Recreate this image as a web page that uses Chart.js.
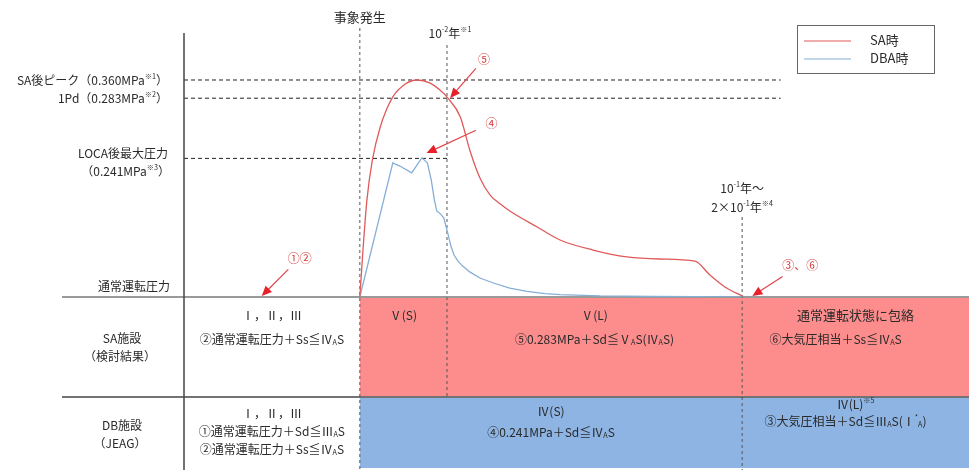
<!DOCTYPE html>
<html>
<head>
<meta charset="utf-8">
<script src="https://cdn.jsdelivr.net/npm/chart.js@4.4.0/dist/chart.umd.min.js"></script>
<style>
  html, body { margin: 0; padding: 0; background: #fff; }
  #wrap { width: 969px; height: 470px; }
</style>
</head>
<body>
<div id="wrap"><canvas id="pressureChart"></canvas></div>
<script>
    // Schematic time axis (0-100) and pressure level (0-100, not to scale)
    var saTime   = [22.4, 22.8, 23.3, 24.0, 25.0, 26.6, 28.2, 29.7, 31.3, 32.6, 33.6, 35.2, 36.4, 37.7, 39.0, 40.3, 41.5, 45.0, 47.9, 52.1, 56.4, 60.6, 65.1, 67.0, 68.9, 71.1];
    var saLevel  = [0, 17.8, 36.7, 51.9, 64.4, 75.8, 80.7, 82.2, 81.1, 78.4, 75.4, 68.2, 55.7, 45.1, 38.6, 35.2, 32.6, 26.5, 21.6, 17.8, 15.2, 14.4, 13.6, 8.3, 3.8, 0.4];
    var dbaTime  = [22.4, 26.6, 27.5, 29.0, 30.3, 31.0, 31.5, 31.9, 32.2, 32.7, 33.1, 33.6, 34.0, 34.4, 34.9, 35.5, 36.4, 37.7, 39.4, 41.5, 43.7, 46.0, 47.9, 53.0, 59.4, 71.1];
    var dbaLevel = [0, 50.8, 49.6, 47.0, 52.7, 50.8, 44.3, 36.7, 32.6, 31.4, 29.9, 24.2, 19.3, 15.9, 13.6, 11.7, 9.5, 7.2, 5.3, 3.4, 2.1, 1.3, 0.9, 0.4, 0.2, 0];

    // Reference pressure levels (dashed lines) and their labels
    var refLevels = [82.2, 75.3, 52.5];
    var refEnds   = [76.0, 76.0, 33.5];
    var refLabels = [['SA後ピーク（0.360MPa^{※1}）'], ['1Pd（0.283MPa^{※2}）'], ['LOCA後最大圧力', '（0.241MPa^{※3}）']];
    var baseLabel = '通常運転圧力';

    // Time marks (vertical dashed lines)
    var timeMarks  = [22.4, 33.5, 71.1];
    var timeLabels = [['事象発生'], ['10^{-2}年^{※1}'], ['10^{-1}年～', '2×10^{-1}年^{※4}']];

    // Arrow notes: target in data units
    var noteText = ['⑤', '④', '①②', '③、⑥'];
    var noteX    = [33.9, 30.9, 9.9, 72.4];
    var noteY    = [75.4, 54.5, 0.4, 0.4];

    // Evaluation table
    var rowNames = [['SA施設', '（検討結果）'], ['DB施設', '（JEAG）']];
    var saCells  = [
        ['Ⅰ，Ⅱ，Ⅲ', '②通常運転圧力＋Ss≦Ⅳ_{A}S'],
        ['Ⅴ(S)'],
        ['Ⅴ(L)', '⑤0.283MPa＋Sd≦Ⅴ_{A}S(Ⅳ_{A}S)'],
        ['通常運転状態に包絡', '⑥大気圧相当＋Ss≦Ⅳ_{A}S']
    ];
    var dbCells  = [
        ['Ⅰ，Ⅱ，Ⅲ', '①通常運転圧力＋Sd≦Ⅲ_{A}S', '②通常運転圧力＋Ss≦Ⅳ_{A}S'],
        ['Ⅳ(S)', '④0.241MPa＋Sd≦Ⅳ_{A}S'],
        ['Ⅳ(L)^{※5}', '③大気圧相当＋Sd≦Ⅲ_{A}S(Ⅰ^{*}_{A})']
    ];

    var FONT = '"Noto Sans CJK JP", "Noto Sans", sans-serif';
    var TEXT = '#2a2a2a';
    var RED = '#e05a5a';
    var BLUE = '#86aed6';

    function toPoints(xs, ys) {
        return xs.map(function (x, i) { return { x: x, y: ys[i] }; });
    }

    // draws text with ^{sup} and _{sub} parts
    function richText(ctx, str, x, y, align, size, color) {
        var parts = str.split(/(\^\{[^}]*\}|_\{[^}]*\})/).filter(function (p) { return p.length; });
        var segs = parts.map(function (p) {
            if (p.indexOf('^{') === 0) return { t: p.slice(2, -1), s: size * 0.6, dy: -size * 0.35 };
            if (p.indexOf('_{') === 0) return { t: p.slice(2, -1), s: size * 0.6, dy: size * 0.3 };
            return { t: p, s: size, dy: 0 };
        });
        var w = 0;
        segs.forEach(function (g) {
            ctx.font = g.s + 'px ' + FONT;
            g.w = ctx.measureText(g.t).width;
            w += g.w;
        });
        var cx = align === 'center' ? x - w / 2 : (align === 'right' ? x - w : x);
        ctx.fillStyle = color;
        ctx.textAlign = 'left';
        ctx.textBaseline = 'middle';
        segs.forEach(function (g) {
            ctx.font = g.s + 'px ' + FONT;
            ctx.fillText(g.t, cx, y + g.dy);
            cx += g.w;
        });
    }

    function line(ctx, x1, y1, x2, y2, color, width, dash) {
        ctx.save();
        ctx.strokeStyle = color;
        ctx.lineWidth = width;
        ctx.setLineDash(dash || []);
        ctx.beginPath();
        ctx.moveTo(x1, y1);
        ctx.lineTo(x2, y2);
        ctx.stroke();
        ctx.restore();
    }

    function arrow(ctx, x1, y1, x2, y2) {
        var a = Math.atan2(y2 - y1, x2 - x1);
        line(ctx, x1, y1, x2 - Math.cos(a) * 6, y2 - Math.sin(a) * 6, '#e0454a', 1.2);
        ctx.save();
        ctx.fillStyle = '#e8202a';
        ctx.translate(x2, y2);
        ctx.rotate(a);
        ctx.beginPath();
        ctx.moveTo(0, 0);
        ctx.lineTo(-10, -4.5);
        ctx.lineTo(-10, 4.5);
        ctx.closePath();
        ctx.fill();
        ctx.restore();
    }

    var diagram = {
        id: 'diagram',
        beforeDatasetsDraw: function (chart) {
            var ctx = chart.ctx, area = chart.chartArea;
            var xs = chart.scales.x, ys = chart.scales.y;
            var right = chart.width;
            var rowTop = area.bottom, midRow = rowTop + 100, rowBottom = rowTop + 171;
            var c0 = xs.getPixelForValue(timeMarks[0]);

            // table fills
            ctx.fillStyle = '#fd8d8d';
            ctx.fillRect(c0, rowTop + 1, right - c0, midRow - rowTop - 2);
            ctx.fillStyle = '#8db4e2';
            ctx.fillRect(c0, midRow + 1, right - c0, rowBottom - midRow - 1);

            // reference dashed lines
            refLevels.forEach(function (v, i) {
                var y = ys.getPixelForValue(v);
                line(ctx, area.left, y, xs.getPixelForValue(refEnds[i]), y, '#222', 1, [4, 3]);
            });

            // time mark lines
            var tops = [28, 45, 217];
            var bottoms = [470, midRow, 470];
            timeMarks.forEach(function (t, i) {
                var x = xs.getPixelForValue(t);
                line(ctx, x, tops[i], x, bottoms[i], '#555', 1, [3, 3]);
            });

            // table lines and axis
            line(ctx, 62, rowTop, right, rowTop, '#777', 1.3);
            line(ctx, 62, midRow, right, midRow, '#444', 1.3);
            line(ctx, area.left, area.top, area.left, 470, '#444', 1.5);
        },
        afterDatasetsDraw: function (chart) {
            var ctx = chart.ctx, area = chart.chartArea;
            var xs = chart.scales.x, ys = chart.scales.y;
            var right = chart.width;
            var rowTop = area.bottom, midRow = rowTop + 100;

            // left labels
            refLevels.forEach(function (v, i) {
                var y = ys.getPixelForValue(v);
                if (refLabels[i].length === 1) {
                    richText(ctx, refLabels[i][0], 168, y, 'right', 12, TEXT);
                } else {
                    richText(ctx, refLabels[i][0], 168, y - 5, 'right', 12, TEXT);
                    richText(ctx, refLabels[i][1], 170, y + 13, 'right', 12, TEXT);
                }
            });
            richText(ctx, baseLabel, 170, rowTop - 11, 'right', 12, TEXT);

            // time labels
            var ly = [[17], [33], [188, 207]];
            timeMarks.forEach(function (t, i) {
                var x = xs.getPixelForValue(t);
                timeLabels[i].forEach(function (s, k) {
                    richText(ctx, s, x + (i === 1 ? 3 : 0), ly[i][k], 'center', i === 0 ? 13 : 12, TEXT);
                });
            });

            // arrow notes
            var offs = [[34, -39], [65, -30], [38, -38], [48, -31]];
            var fr = [0.76, 0.76, 0.7, 0.63];
            noteText.forEach(function (s, i) {
                var tx = xs.getPixelForValue(noteX[i]), ty = ys.getPixelForValue(noteY[i]);
                var lx = tx + offs[i][0], lyy = ty + offs[i][1];
                arrow(ctx, tx + offs[i][0] * fr[i], ty + offs[i][1] * fr[i], tx, ty);
                richText(ctx, s, lx, lyy, 'center', 12, '#d83a3a');
            });

            // legend
            var bx = 797, by = 25, bw = 137, bh = 48;
            ctx.fillStyle = '#fff';
            ctx.fillRect(bx, by, bw, bh);
            ctx.strokeStyle = '#666';
            ctx.lineWidth = 1;
            ctx.strokeRect(bx + 0.5, by + 0.5, bw, bh);
            chart.data.datasets.forEach(function (ds, i) {
                var y = by + 16 + i * 18;
                line(ctx, bx + 7, y, bx + 54, y, ds.borderColor, 1.2);
                richText(ctx, ds.label, bx + 73, y - 1, 'left', 13, TEXT);
            });

            // table text
            var cx = [area.left].concat(timeMarks.map(function (t) { return xs.getPixelForValue(t); })).concat([right]);
            rowNames.forEach(function (r, i) {
                var y0 = i === 0 ? rowTop + 41 : midRow + 28;
                richText(ctx, r[0], 122, y0, 'center', 12, TEXT);
                richText(ctx, r[1], 120, y0 + 18, 'center', 12, TEXT);
            });
            saCells.forEach(function (cell, i) {
                var mid = (cx[i] + cx[i + 1]) / 2;
                cell.forEach(function (s, k) {
                    richText(ctx, s, mid - (i === 3 && k === 1 ? 20 : 0), rowTop + 18 + k * 24, 'center', i === 3 && k === 0 ? 13 : 12, TEXT);
                });
            });
            var dbSpan = [[cx[0], cx[1]], [cx[1], cx[3]], [cx[3], cx[4]]];
            var dbY = [[16, 34, 52], [14, 35], [7, 24]];
            dbCells.forEach(function (cell, i) {
                var mid = (dbSpan[i][0] + dbSpan[i][1]) / 2;
                cell.forEach(function (s, k) {
                    richText(ctx, s, mid - (i === 2 && k === 1 ? 10 : 0), midRow + dbY[i][k], 'center', 12, TEXT);
                });
            });
        }
    };

    var ctxPressure = document.getElementById('pressureChart').getContext('2d');
    new Chart(ctxPressure, {
        type: 'line',
        data: {
            datasets: [{
                label: 'SA時',
                data: toPoints(saTime, saLevel),
                borderColor: RED,
                borderWidth: 1.3,
                pointRadius: 0,
                cubicInterpolationMode: 'monotone',
                fill: false
            }, {
                label: 'DBA時',
                data: toPoints(dbaTime, dbaLevel),
                borderColor: BLUE,
                borderWidth: 1.3,
                pointRadius: 0,
                tension: 0,
                fill: false
            }]
        },
        options: {
            responsive: true,
            maintainAspectRatio: false,
            animation: false,
            layout: {
                padding: { left: 184, top: 33, right: 0, bottom: 173 }
            },
            scales: {
                x: { type: 'linear', min: 0, max: 100, display: false },
                y: { min: 0, max: 100, display: false }
            },
            plugins: {
                legend: { display: false },
                tooltip: { enabled: false }
            }
        },
        plugins: [diagram]
    });
</script>
</body>
</html>
